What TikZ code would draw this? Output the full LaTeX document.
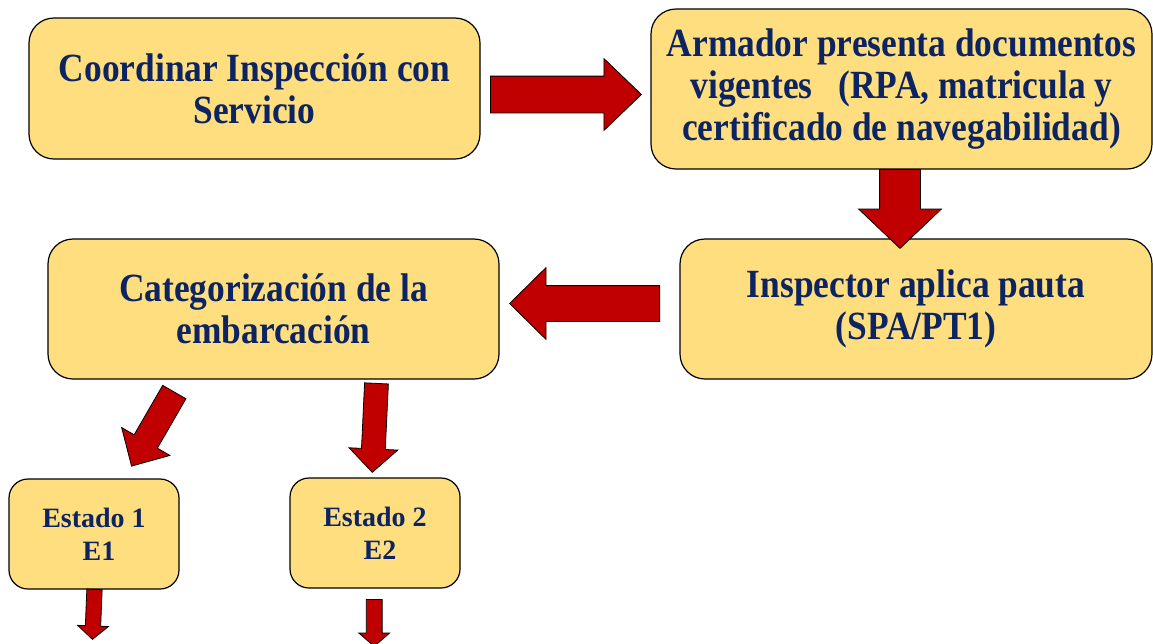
\documentclass[tikz,border=0pt]{standalone}
\usepackage{fontspec}
\setmainfont{Liberation Serif}
\newfontfamily\condf{Liberation Serif}[FakeStretch=0.885]
\usetikzlibrary{shapes.arrows}
\definecolor{boxfill}{RGB}{255,222,128}
\definecolor{boxtext}{RGB}{12,36,97}
\definecolor{arrowred}{RGB}{192,0,0}
\tikzset{
  box/.style={draw=black, line width=1.2pt, fill=boxfill, rounded corners=25pt,
    align=center, text=boxtext, inner sep=0pt,
    font=\condf\bfseries\fontsize{40}{42}\selectfont},
  smallbox/.style={box, rounded corners=19pt,
    font=\bfseries\fontsize{28}{33}\selectfont},
  blockarrow/.style={single arrow, draw=black, line width=0.8pt, fill=arrowred,
    inner xsep=0pt, minimum width=0pt, anchor=tail}
}
\begin{document}
\begin{tikzpicture}[x=1pt,y=-1pt]
\useasboundingbox (0,0) rectangle (1153,643);
% boxes
\node[box, minimum width=451pt, minimum height=141pt] (coord) at (254.5,88.5)
  {Coordinar Inspección con\\Servicio};
\node[box, minimum width=501pt, minimum height=160pt] (armador) at (901.5,89)
  {Armador presenta documentos\\vigentes\hspace{26pt}(RPA, matricula y\\certificado de navegabilidad)};
\node[box, minimum width=472pt, minimum height=140pt] (insp) at (916,309)
  {Inspector aplica pauta\\(SPA/PT1)};
\node[box, minimum width=451pt, minimum height=140pt] (categ) at (273.5,309)
  {Categorización de la\\embarcación};
\node[smallbox, minimum width=170pt, minimum height=110pt] (e1) at (94,534)
  {Estado 1\\\hspace*{10pt}E1};
\node[smallbox, minimum width=170pt, minimum height=110pt] (e2) at (375,533)
  {Estado 2\\\hspace*{10pt}E2};
% block arrows
\node[blockarrow, inner ysep=18pt, single arrow head extend=17.5pt,
  single arrow tip angle=87.6, minimum height=151pt] (a1) at (490,94.5) {};
\node[blockarrow, rotate=-90, inner ysep=20pt, single arrow head extend=21pt,
  single arrow tip angle=92.9, minimum height=79pt] (a2) at (900,169) {};
\node[blockarrow, rotate=180, inner ysep=17.5pt, single arrow head extend=18pt,
  single arrow tip angle=89.2, minimum height=150pt] (a3) at (660,303.5) {};
\node[blockarrow, rotate=-120, inner ysep=13pt, single arrow head extend=14.5pt,
  single arrow tip angle=88.9, minimum height=85.5pt] (a4) at (174.5,391.7) {};
\node[blockarrow, rotate=-92.7, inner ysep=11.5pt, single arrow head extend=12.5pt,
  single arrow tip angle=92.4, minimum height=89pt] (a5) at (376.5,383) {};
\node[blockarrow, rotate=-92.3, inner ysep=7.25pt, single arrow head extend=7.75pt,
  single arrow tip angle=98, minimum height=50pt] (a6) at (94.5,589) {};
\node[blockarrow, rotate=-90, inner ysep=7.5pt, single arrow head extend=7.5pt,
  single arrow tip angle=98, minimum height=47pt] (a7) at (374.2,599) {};
\end{tikzpicture}
\end{document}
